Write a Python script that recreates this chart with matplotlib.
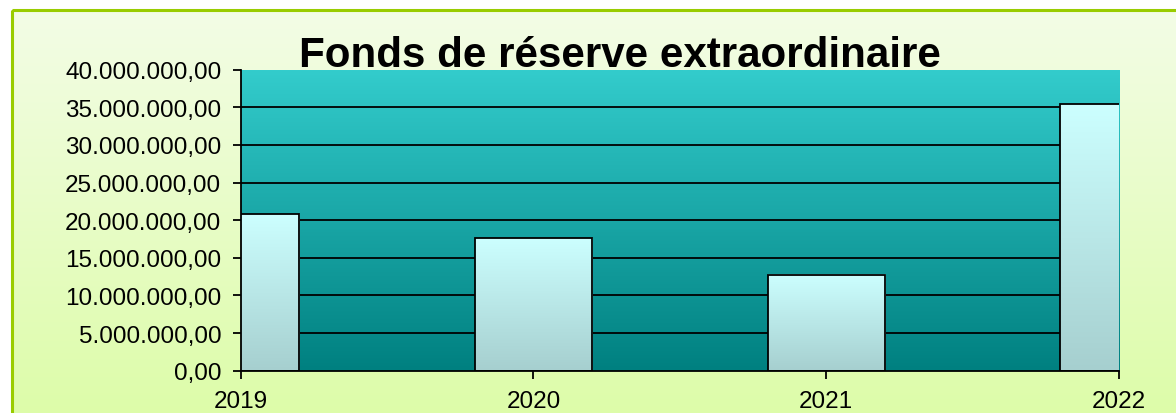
import numpy as np
import matplotlib
matplotlib.use("Agg")
import matplotlib.pyplot as plt
from matplotlib.colors import LinearSegmentedColormap
from matplotlib.patches import Rectangle
from matplotlib.ticker import FuncFormatter, MultipleLocator

years = [2019, 2020, 2021, 2022]
fonds = [20_820_000, 17_600_000, 12_780_000, 35_480_000]
title = "Fonds de réserve extraordinaire"

plt.rcParams["font.family"] = ["Liberation Sans", "DejaVu Sans"]

W, H = 1176, 414
fig = plt.figure(figsize=(W / 100, H / 100), dpi=100)
fig.patch.set_facecolor("white")

# background panel with a soft vertical gradient and green border
bg = fig.add_axes([0, 0, 1, 1], zorder=0)
bg.set_axis_off()
bg.set_xlim(0, W)
bg.set_ylim(H, 0)
bg_cmap = LinearSegmentedColormap.from_list("bg", ["#f3fde6", "#dcfca6"])
grad = np.linspace(0, 1, 256).reshape(-1, 1)
bg.imshow(grad, cmap=bg_cmap, extent=[12, W + 20, H + 20, 11], aspect="auto", zorder=0)
bg.add_patch(Rectangle((12, 11), W, H, fill=False, edgecolor="#99cc00",
                       linewidth=2.2, zorder=1))

ax = fig.add_axes([240.7 / W, 1 - 371.7 / H, (1119 - 240.7) / W, (371.7 - 70.7) / H],
                  zorder=1)
XMIN, XMAX = 2019, 2022
ax.set_xlim(XMIN, XMAX)
ax.set_ylim(0, 40_000_000)

plot_cmap = LinearSegmentedColormap.from_list("plot", ["#008080", "#33cccc"])
ax.imshow(grad, cmap=plot_cmap, origin="lower", extent=[0, 1, 0, 1],
          transform=ax.transAxes, aspect="auto", zorder=0)

for v in range(5_000_000, 40_000_000, 5_000_000):
    ax.axhline(v, color="black", linewidth=1.3, zorder=1)

bars = ax.bar(years, fonds, width=0.4, facecolor="none", edgecolor="black",
              linewidth=1.3, zorder=3)
bar_cmap = LinearSegmentedColormap.from_list("bar", ["#a6cfcf", "#ccffff"])
for b in bars:
    x0 = max(b.get_x(), XMIN)
    x1 = min(b.get_x() + b.get_width(), XMAX)
    ax.imshow(grad, cmap=bar_cmap, origin="lower",
              extent=[x0, x1, b.get_y(), b.get_y() + b.get_height()],
              aspect="auto", zorder=2)
ax.set_xlim(XMIN, XMAX)
ax.set_ylim(0, 40_000_000)

for s in ["top", "right"]:
    ax.spines[s].set_visible(False)
for s in ["left", "bottom"]:
    ax.spines[s].set_linewidth(1.3)
    ax.spines[s].set_zorder(4)

ax.set_xticks(years)
ax.set_xticklabels([str(y) for y in years])
ax.yaxis.set_major_locator(MultipleLocator(5_000_000))
ax.yaxis.set_major_formatter(FuncFormatter(
    lambda v, p: f"{v:,.2f}".replace(",", " ").replace(".", ",").replace(" ", ".")))
ax.tick_params(axis="both", labelsize=17.5, length=6, width=1.3, direction="out")
ax.tick_params(axis="y", pad=8)
ax.tick_params(axis="x", pad=8)

fig.text(620 / W, 1 - 67 / H, title, ha="center", va="baseline",
         fontsize=30.3, fontweight="bold", zorder=5)

fig.savefig("out.png", dpi=100)
